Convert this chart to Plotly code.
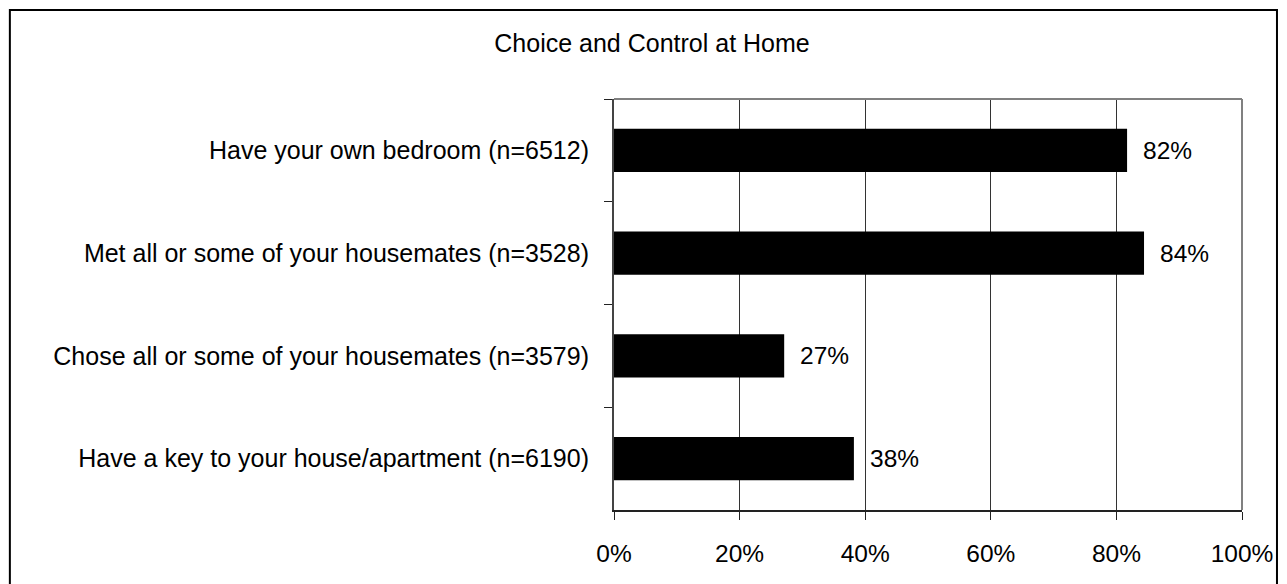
import plotly.graph_objects as go

categories = [
    "Have your own bedroom (n=6512)",
    "Met all or some of your housemates (n=3528)",
    "Chose all or some of your housemates (n=3579)",
    "Have a key to your house/apartment (n=6190)",
]
values = [0.817, 0.844, 0.271, 0.382]
x_ticks = [0, 0.2, 0.4, 0.6, 0.8, 1.0]
x_ticklabels = ["0%", "20%", "40%", "60%", "80%", "100%"]
title_text = "Choice and Control at Home"

FONT = "Liberation Sans, Arial, sans-serif"

fig = go.Figure()

fig.add_trace(go.Bar(
    x=values, y=categories, orientation="h",
    marker=dict(color="#000000", line=dict(width=0)),
    showlegend=False, hoverinfo="skip",
))

# value labels to the right of each bar
for cat, v in zip(categories, values):
    fig.add_annotation(
        x=v, y=cat, xref="x", yref="y",
        text=f"{round(v * 100):.0f}%",
        showarrow=False, xanchor="left", xshift=14,
        font=dict(family=FONT, size=24.5, color="#000000"),
    )

# plot frame: grey top and right edges
fig.add_shape(type="line", xref="paper", yref="paper", x0=0, x1=1, y0=1, y1=1,
              line=dict(color="#808080", width=2), layer="above")
fig.add_shape(type="line", xref="paper", yref="paper", x0=1, x1=1, y0=0, y1=1,
              line=dict(color="#808080", width=2), layer="above")

# outer chart border
fig.add_shape(type="rect", xref="paper", yref="paper",
              x0=-0.962, x1=1.0557, y0=-0.2, y1=1.2165,
              line=dict(color="#000000", width=2), layer="below")

fig.update_layout(
    width=1287, height=584,
    paper_bgcolor="#ffffff", plot_bgcolor="#ffffff",
    margin=dict(l=606, r=53, t=91, b=82),
    bargap=0.58,
    title=dict(
        text=title_text,
        font=dict(family=FONT, size=25, color="#000000"),
        x=0.5004, xanchor="center", xref="container",
        y=0.940, yanchor="middle", yref="container",
    ),
    xaxis=dict(
        range=[0, 1], tickvals=x_ticks, ticktext=x_ticklabels,
        showgrid=True, gridcolor="#333333", gridwidth=1,
        showline=True, linecolor="#222222", linewidth=2,
        ticks="outside", ticklen=8, tickcolor="#222222", tickwidth=1,
        ticklabelstandoff=13,
        tickfont=dict(family=FONT, size=24.5, color="#000000"),
        zeroline=False, fixedrange=True,
    ),
    yaxis=dict(
        autorange="reversed", type="category",
        showgrid=False,
        showline=True, linecolor="#444444", linewidth=2,
        ticks="outside", ticklen=8, tickcolor="#222222", tickwidth=1,
        tickson="boundaries",
        ticklabelstandoff=18,
        tickfont=dict(family=FONT, size=25, color="#000000"),
        fixedrange=True,
    ),
)

fig.write_html("out.html")
